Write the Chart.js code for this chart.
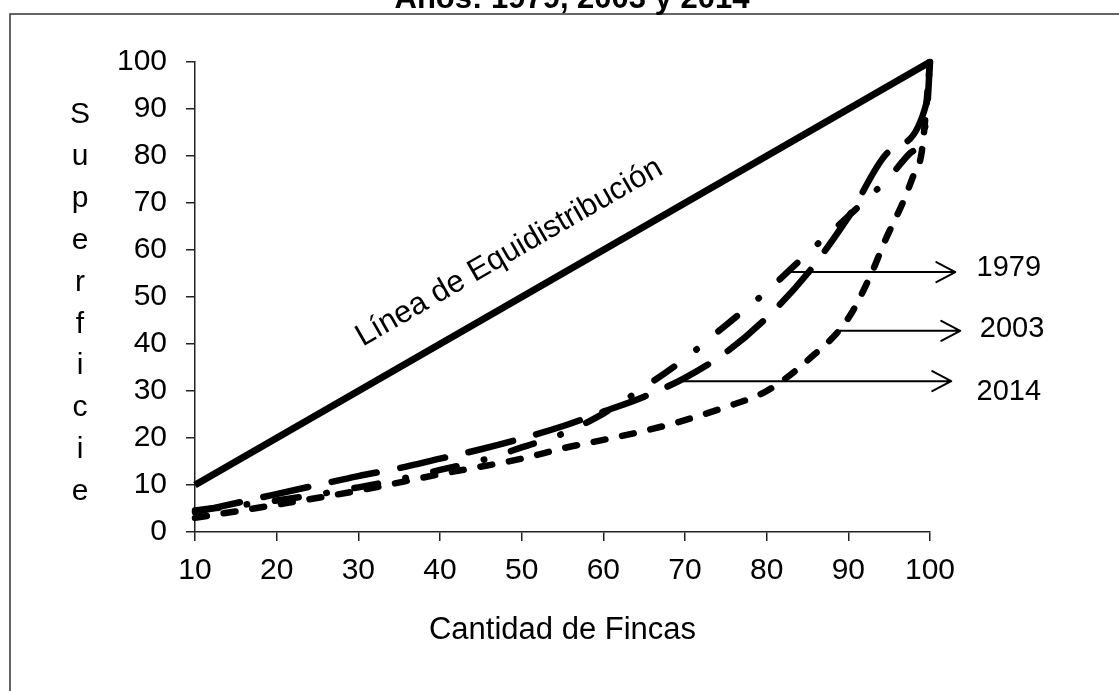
<!DOCTYPE html>
<html><head><meta charset="utf-8">
<script src="https://cdn.jsdelivr.net/npm/chart.js@4.4.1/dist/chart.umd.min.js"></script>
<style>html,body{margin:0;padding:0;background:#fff;}canvas{display:block;}</style>
</head><body>
<canvas id="c" width="1119" height="691"></canvas>
<script>
// ---- texts ----
const titleText = 'Años: 1979, 2003 y 2014';
const xTitle = 'Cantidad de Fincas';
const yTitle = 'Superficie';
const diagLabel = 'Línea de Equidistribución';
const seriesNames = ['1979', '2003', '2014'];

// ---- data ----
const equiX = [10, 20, 30, 40, 50, 60, 70, 80, 90, 100];
const equiY = [10, 20, 30, 40, 50, 60, 70, 80, 90, 100];

const x1979 = [10, 15, 20, 25, 30, 35, 40, 46, 50, 55, 60, 65, 70, 75, 80, 85, 90, 95, 97.5, 99.5, 100];
const y1979 = [4.6, 5.6, 6.7, 8.0, 9.5, 11.2, 13.2, 15.7, 18.0, 20.9, 25.2, 30.8, 36.9, 44.0, 51.2, 59.3, 67.2, 75.5, 80.5, 87, 100];

const x2003 = [10, 20, 30, 40, 50, 55, 60, 65, 70, 75, 80, 85, 90, 92.9, 94.5, 96.7, 98, 99, 100];
const y2003 = [3.0, 5.8, 8.8, 12.3, 15.6, 17.8, 19.6, 21.5, 23.8, 26.6, 30.0, 36.5, 45.5, 55.3, 62.0, 70.2, 76, 81, 100];

const x2014 = [10, 18, 25, 30, 35, 40, 45, 50, 55, 60, 65, 70, 75, 80, 85, 90, 95, 99.6, 100];
const y2014 = [4.2, 7.3, 10.0, 11.9, 13.6, 15.6, 17.6, 19.9, 22.5, 25.6, 28.8, 32.8, 38.2, 45.6, 55.0, 67.0, 81.0, 91.5, 100];

const xTickValues = [10, 20, 30, 40, 50, 60, 70, 80, 90, 100];

// ---- annotation anchors (data units) ----
const arrowStart = [{x: 82.5, y: 55.3}, {x: 89.0, y: 42.8}, {x: 69.7, y: 32.1}];
const arrowTipX = [103.1, 103.7, 102.6];
const labelPos = [{x: 105.7, y: 56.2}, {x: 106.1, y: 43.2}, {x: 105.7, y: 29.8}];
const diagPos = {x: 49.0, y: 57.9};

const FONT = '"Liberation Sans", Arial, Helvetica, sans-serif';
const pts = (xs, ys) => xs.map((v, i) => ({x: v, y: ys[i]}));

const deco = {
  id: 'deco',
  afterDatasetsDraw(chart) {
    const {ctx, scales: {x, y}} = chart;
    ctx.save();
    // frame
    ctx.strokeStyle = '#333';
    ctx.lineWidth = 1.5;
    ctx.beginPath();
    ctx.moveTo(10, 691); ctx.lineTo(10, 14); ctx.lineTo(1119, 14);
    ctx.stroke();
    ctx.fillStyle = '#000';
    // title (cut off at top)
    ctx.font = 'bold 31px ' + FONT;
    ctx.textAlign = 'center';
    ctx.textBaseline = 'alphabetic';
    ctx.fillText(titleText, 572, 8);
    // vertical y title
    ctx.font = '30px ' + FONT;
    for (let i = 0; i < yTitle.length; i++) {
      ctx.fillText(yTitle[i], 80, 123 + i * 41.9);
    }
    // diagonal label
    const a = Math.atan2(y.getPixelForValue(100) - y.getPixelForValue(10), x.getPixelForValue(100) - x.getPixelForValue(10));
    ctx.save();
    ctx.translate(x.getPixelForValue(diagPos.x), y.getPixelForValue(diagPos.y));
    ctx.rotate(a);
    ctx.font = '31px ' + FONT;
    ctx.fillText(diagLabel, 0, 0);
    ctx.restore();
    // arrows
    ctx.strokeStyle = '#000';
    ctx.lineWidth = 2;
    ctx.lineCap = 'round';
    ctx.lineJoin = 'round';
    for (let i = 0; i < seriesNames.length; i++) {
      const sx = x.getPixelForValue(arrowStart[i].x);
      const sy = y.getPixelForValue(arrowStart[i].y);
      const tx = x.getPixelForValue(arrowTipX[i]);
      ctx.beginPath();
      ctx.moveTo(sx, sy); ctx.lineTo(tx, sy);
      ctx.moveTo(tx - 19, sy - 10); ctx.lineTo(tx, sy); ctx.lineTo(tx - 19, sy + 10);
      ctx.stroke();
      ctx.font = '29px ' + FONT;
      ctx.textAlign = 'left';
      ctx.textBaseline = 'middle';
      ctx.fillText(seriesNames[i], x.getPixelForValue(labelPos[i].x), y.getPixelForValue(labelPos[i].y));
    }
    ctx.restore();
  }
};

const lineBase = {borderColor: '#000', backgroundColor: '#000', borderWidth: 6.5, pointRadius: 0, fill: false, clip: false, borderCapStyle: 'round', borderJoinStyle: 'round'};

new Chart(document.getElementById('c'), {
  type: 'line',
  data: {
    datasets: [
      Object.assign({}, lineBase, {label: diagLabel, data: pts(equiX, equiY), tension: 0, borderWidth: 7, borderCapStyle: 'butt', borderJoinStyle: 'miter'}),
      Object.assign({}, lineBase, {label: seriesNames[0], data: pts(x1979, y1979), cubicInterpolationMode: 'monotone', borderDash: [24, 28, 0.5, 28]}),
      Object.assign({}, lineBase, {label: seriesNames[1], data: pts(x2003, y2003), cubicInterpolationMode: 'monotone', borderDash: [12, 17]}),
      Object.assign({}, lineBase, {label: seriesNames[2], data: pts(x2014, y2014), cubicInterpolationMode: 'monotone', borderDash: [46, 24]})
    ]
  },
  options: {
    responsive: false,
    animation: false,
    devicePixelRatio: 1,
    layout: {padding: {left: 0, right: 189, top: 62, bottom: 0}},
    plugins: {legend: {display: false}, tooltip: {enabled: false}, title: {display: false}},
    scales: {
      x: {
        type: 'linear', min: 10, max: 100,
        afterBuildTicks: (s) => { s.ticks = xTickValues.map(v => ({value: v})); },
        afterFit: (s) => { s.height = 159; },
        ticks: {color: '#000', font: {family: FONT, size: 30}, padding: 12, maxRotation: 0, autoSkip: false},
        grid: {display: true, drawOnChartArea: false, drawTicks: true, tickLength: 9, color: '#222', lineWidth: 1.5},
        border: {display: true, color: '#222', width: 1.5},
        title: {display: true, text: xTitle, color: '#000', font: {family: FONT, size: 31}, padding: {top: 4, bottom: 42}}
      },
      y: {
        type: 'linear', min: 0, max: 100,
        afterFit: (s) => { s.width = 195; },
        ticks: {stepSize: 10, color: '#000', font: {family: FONT, size: 30}, padding: 19},
        grid: {display: true, drawOnChartArea: false, drawTicks: true, tickLength: 9, color: '#222', lineWidth: 1.5},
        border: {display: true, color: '#222', width: 1.5}
      }
    }
  },
  plugins: [deco]
});
</script>
</body></html>
